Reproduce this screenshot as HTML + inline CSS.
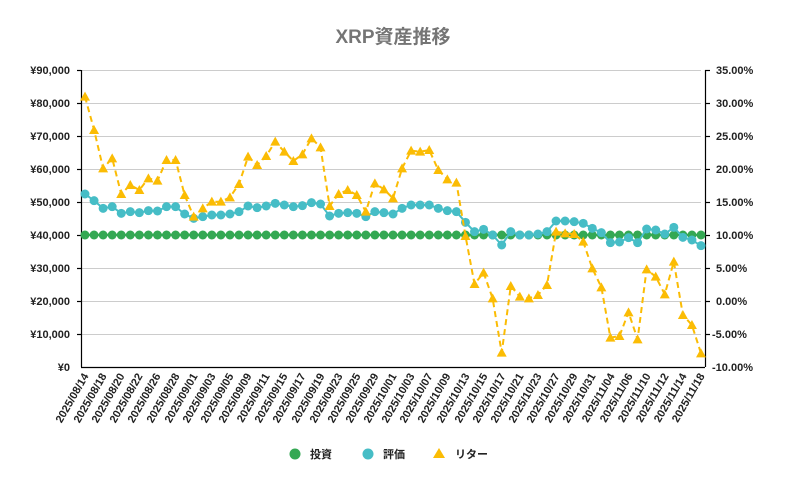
<!DOCTYPE html>
<html><head><meta charset="utf-8"><style>
html,body{margin:0;padding:0;background:#fff;}
svg{display:block;font-family:"Liberation Sans","Noto Sans CJK JP",sans-serif;}
</style></head><body>
<svg id="c" width="786" height="485" viewBox="0 0 786 485" xmlns="http://www.w3.org/2000/svg">
<rect width="786" height="485" fill="#fff"/>
<text x="393" y="43" text-anchor="middle" font-size="19" font-weight="bold" fill="#757575">XRP資産推移</text>
<g stroke="#cccccc" stroke-width="1">
<line x1="82" x2="701" y1="70.5" y2="70.5"/><line x1="82" x2="701" y1="103.5" y2="103.5"/>
<line x1="82" x2="701" y1="136.5" y2="136.5"/><line x1="82" x2="701" y1="169.5" y2="169.5"/>
<line x1="82" x2="701" y1="202.5" y2="202.5"/><line x1="82" x2="701" y1="235.5" y2="235.5"/>
<line x1="82" x2="701" y1="268.5" y2="268.5"/><line x1="82" x2="701" y1="301.5" y2="301.5"/>
<line x1="82" x2="701" y1="334.5" y2="334.5"/>
</g>
<g stroke="#000" stroke-width="1.2">
<line x1="81.5" x2="81.5" y1="70" y2="367"/><line x1="81" x2="705" y1="367.5" y2="367.5"/>
<line x1="705.5" x2="705.5" y1="70" y2="367"/>
<line x1="77" x2="81" y1="70.5" y2="70.5"/><line x1="77" x2="81" y1="103.5" y2="103.5"/><line x1="77" x2="81" y1="136.5" y2="136.5"/><line x1="77" x2="81" y1="169.5" y2="169.5"/><line x1="77" x2="81" y1="202.5" y2="202.5"/><line x1="77" x2="81" y1="235.5" y2="235.5"/><line x1="77" x2="81" y1="268.5" y2="268.5"/><line x1="77" x2="81" y1="301.5" y2="301.5"/><line x1="77" x2="81" y1="334.5" y2="334.5"/>
<line x1="705" x2="710" y1="70.5" y2="70.5"/><line x1="705" x2="710" y1="103.5" y2="103.5"/><line x1="705" x2="710" y1="136.5" y2="136.5"/><line x1="705" x2="710" y1="169.5" y2="169.5"/><line x1="705" x2="710" y1="202.5" y2="202.5"/><line x1="705" x2="710" y1="235.5" y2="235.5"/><line x1="705" x2="710" y1="268.5" y2="268.5"/><line x1="705" x2="710" y1="301.5" y2="301.5"/><line x1="705" x2="710" y1="334.5" y2="334.5"/>
</g>
<g font-size="11" font-weight="bold" fill="#222" text-anchor="end">
<text x="70" y="74">¥90,000</text><text x="70" y="107">¥80,000</text><text x="70" y="140">¥70,000</text><text x="70" y="173">¥60,000</text><text x="70" y="206">¥50,000</text><text x="70" y="239">¥40,000</text><text x="70" y="272">¥30,000</text><text x="70" y="305">¥20,000</text><text x="70" y="338">¥10,000</text><text x="70" y="371">¥0</text>
</g>
<g font-size="11" font-weight="bold" fill="#222" text-anchor="start">
<text x="716" y="74">35.00%</text><text x="716" y="107">30.00%</text><text x="716" y="140">25.00%</text><text x="716" y="173">20.00%</text><text x="716" y="206">15.00%</text><text x="716" y="239">10.00%</text><text x="716" y="272">5.00%</text><text x="716" y="305">0.00%</text><text x="712" y="338">-5.00%</text><text x="712" y="371">-10.00%</text>
</g>
<g font-size="11" font-weight="bold" fill="#222" text-anchor="end">
<text transform="translate(89,376) rotate(-60)">2025/08/14</text>
<text transform="translate(107,376) rotate(-60)">2025/08/18</text>
<text transform="translate(125,376) rotate(-60)">2025/08/20</text>
<text transform="translate(143,376) rotate(-60)">2025/08/22</text>
<text transform="translate(161,376) rotate(-60)">2025/08/26</text>
<text transform="translate(180,376) rotate(-60)">2025/08/28</text>
<text transform="translate(198,376) rotate(-60)">2025/09/01</text>
<text transform="translate(216,376) rotate(-60)">2025/09/03</text>
<text transform="translate(234,376) rotate(-60)">2025/09/05</text>
<text transform="translate(252,376) rotate(-60)">2025/09/09</text>
<text transform="translate(270,376) rotate(-60)">2025/09/11</text>
<text transform="translate(288,376) rotate(-60)">2025/09/15</text>
<text transform="translate(306,376) rotate(-60)">2025/09/17</text>
<text transform="translate(325,376) rotate(-60)">2025/09/19</text>
<text transform="translate(343,376) rotate(-60)">2025/09/23</text>
<text transform="translate(361,376) rotate(-60)">2025/09/25</text>
<text transform="translate(379,376) rotate(-60)">2025/09/29</text>
<text transform="translate(397,376) rotate(-60)">2025/10/01</text>
<text transform="translate(415,376) rotate(-60)">2025/10/03</text>
<text transform="translate(433,376) rotate(-60)">2025/10/07</text>
<text transform="translate(451,376) rotate(-60)">2025/10/09</text>
<text transform="translate(470,376) rotate(-60)">2025/10/13</text>
<text transform="translate(488,376) rotate(-60)">2025/10/15</text>
<text transform="translate(506,376) rotate(-60)">2025/10/17</text>
<text transform="translate(524,376) rotate(-60)">2025/10/21</text>
<text transform="translate(542,376) rotate(-60)">2025/10/23</text>
<text transform="translate(560,376) rotate(-60)">2025/10/27</text>
<text transform="translate(578,376) rotate(-60)">2025/10/29</text>
<text transform="translate(596,376) rotate(-60)">2025/10/31</text>
<text transform="translate(615,376) rotate(-60)">2025/11/04</text>
<text transform="translate(633,376) rotate(-60)">2025/11/06</text>
<text transform="translate(651,376) rotate(-60)">2025/11/10</text>
<text transform="translate(669,376) rotate(-60)">2025/11/12</text>
<text transform="translate(687,376) rotate(-60)">2025/11/14</text>
<text transform="translate(705,376) rotate(-60)">2025/11/18</text>
</g>
<g id="series"></g>
<circle cx="295" cy="454" r="5.5" fill="#34a853"/>
<text x="310" y="458" font-size="11" font-weight="bold" fill="#222">投資</text>
<circle cx="368" cy="454" r="5.5" fill="#46bdc6"/>
<text x="383" y="458" font-size="11" font-weight="bold" fill="#222">評価</text>
<path d="M439 448 L445 458 L433 458 Z" fill="#fbbc04"/>
<text x="455" y="458" font-size="11" font-weight="bold" fill="#222">リター</text>
</svg>
<script>
var Y=[110,210,325,295,402,375,390,355,362,300,300,405,470,445,425,425,412,372,290,315,288,245,275,303,283,235,262,438,402,390,405,455,370,388,415,325,272,275,270,330,358,368,528,672,638,715,878,678,710,715,705,675,515,520,522,545,625,682,833,828,757,838,628,650,703,605,765,795,880];
var B=[402,422,445,440,460,455,458,452,453,440,440,462,475,470,465,465,462,455,438,443,438,430,435,440,437,428,432,468,460,458,460,470,455,458,462,445,435,435,435,445,452,455,487,515,508,525,555,515,525,525,522,515,483,483,485,490,505,518,548,546,533,548,507,510,522,502,532,540,557];
var NS="http://www.w3.org/2000/svg",g=document.getElementById("series");
function X(i){return 85+i*616/68;}
function el(t,a){var e=document.createElementNS(NS,t);for(var k in a)e.setAttribute(k,a[k]);g.appendChild(e);return e;}
var pg="",pb="",py="";
for(var i=0;i<69;i++){var x=X(i).toFixed(1);pg+=(i?"L":"M")+x+" 235 ";pb+=(i?"L":"M")+x+" "+(60+B[i]/3).toFixed(1)+" ";py+=(i?"L":"M")+x+" "+(60+Y[i]/3).toFixed(1)+" ";}
el("path",{d:pg,stroke:"#34a853","stroke-width":2,fill:"none"});
for(i=0;i<69;i++)el("circle",{cx:X(i),cy:235,r:4.5,fill:"#34a853"});
el("path",{d:pb,stroke:"#46bdc6","stroke-width":2,fill:"none"});
for(i=0;i<69;i++)el("circle",{cx:X(i),cy:60+B[i]/3,r:4.5,fill:"#46bdc6"});
el("path",{d:py,stroke:"#fbbc04","stroke-width":2,fill:"none","stroke-dasharray":"6,4"});
for(i=0;i<69;i++){var x=X(i),y=60+Y[i]/3;el("path",{d:"M"+x+" "+(y-5)+" L"+(x+5)+" "+(y+4)+" L"+(x-5)+" "+(y+4)+" Z",fill:"#fbbc04"});}
</script>
</body></html>
